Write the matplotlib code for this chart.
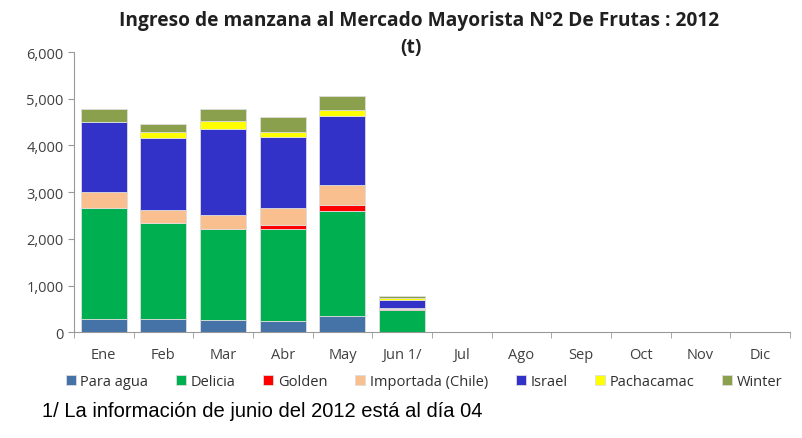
import matplotlib
matplotlib.use('Agg')
import matplotlib.pyplot as plt
import numpy as np

plt.rcParams['font.family'] = ['Open Sans', 'DejaVu Sans']

months = ['Ene', 'Feb', 'Mar', 'Abr', 'May', 'Jun 1/', 'Jul', 'Ago', 'Sep', 'Oct', 'Nov', 'Dic']
series_names = ['Para agua', 'Delicia', 'Golden', 'Importada (Chile)', 'Israel', 'Pachacamac', 'Winter']
para_agua = [290, 290, 270, 250, 340, 5, 0, 0, 0, 0, 0, 0]
delicia = [2360, 2060, 1950, 1970, 2265, 470, 0, 0, 0, 0, 0, 0]
golden = [0, 0, 0, 70, 130, 30, 0, 0, 0, 0, 0, 0]
importada = [355, 270, 285, 380, 415, 10, 0, 0, 0, 0, 0, 0]
israel = [1500, 1540, 1855, 1510, 1480, 170, 0, 0, 0, 0, 0, 0]
pachacamac = [0, 130, 160, 115, 125, 40, 0, 0, 0, 0, 0, 0]
winter = [285, 170, 255, 315, 295, 40, 0, 0, 0, 0, 0, 0]
colors = ['#4573A7', '#00B050', '#FF0000', '#FABF8F', '#3232C8', '#FFFF00', '#8BA04D']

fig = plt.figure(figsize=(8.03, 4.39), dpi=100)
ax = fig.add_axes([0.092, 0.241, 0.892, 0.638])

x = np.arange(len(months))
bottom = np.zeros(len(months))
for name, vals, c in zip(series_names, [para_agua, delicia, golden, importada, israel, pachacamac, winter], colors):
    ax.bar(x, vals, width=0.77, bottom=bottom, color=c, label=name,
           edgecolor='#dddddd', linewidth=0.6)
    bottom += np.array(vals)

ax.set_xlim(-0.5, 11.5)
ax.set_ylim(0, 6000)
ax.set_yticks(range(0, 6001, 1000))
ax.set_yticklabels(['{:,}'.format(v) for v in range(0, 6001, 1000)], fontsize=10.5, color='#404040')
ax.set_xticks(x)
ax.set_xticklabels(months, fontsize=10.5, color='#404040')
ax.set_xticks(np.arange(-0.5, 12, 1), minor=True)
ax.tick_params(axis='x', which='major', length=0, pad=11)
ax.tick_params(axis='x', which='minor', length=4, color='#999999')
ax.tick_params(axis='y', length=4, color='#999999')
for s in ['top', 'right']:
    ax.spines[s].set_visible(False)
for s in ['left', 'bottom']:
    ax.spines[s].set_color('#999999')

fig.text(0.522, 0.952, 'Ingreso de manzana al Mercado Mayorista Nº2 De Frutas : 2012',
         ha='center', va='center', fontsize=13.8, fontweight='bold', color='#202020')
fig.text(0.512, 0.89, '(t)', ha='center', va='center', fontsize=13.8, fontweight='bold',
         color='#202020')

fig.legend(loc='center', bbox_to_anchor=(0.528, 0.128), ncol=7, frameon=False,
           fontsize=10.5, handlelength=0.7, handleheight=0.7, handletextpad=0.3,
           columnspacing=1.9, labelcolor='#303030')

fig.text(0.052, 0.063, '1/ La información de junio del 2012 está al día 04',
         ha='left', va='center', fontsize=14.5,
         family=['Liberation Sans Narrow', 'Liberation Sans', 'DejaVu Sans'])

plt.savefig('out.png', dpi=100)
